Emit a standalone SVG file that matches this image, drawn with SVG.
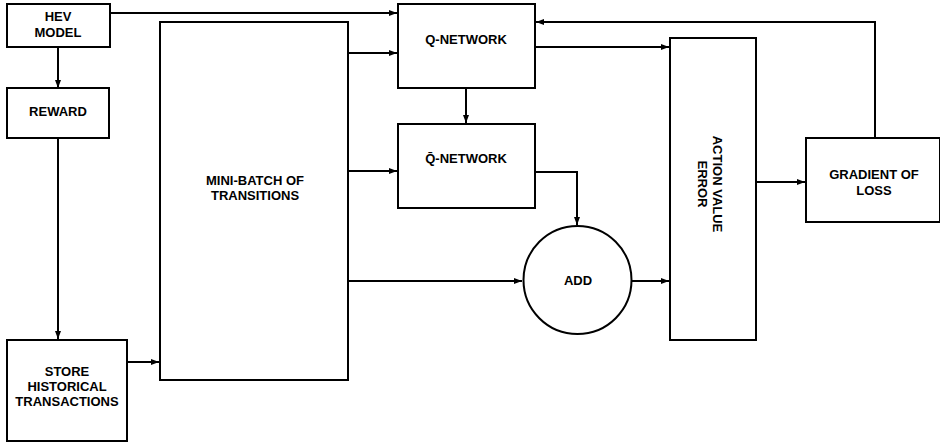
<svg xmlns="http://www.w3.org/2000/svg" width="940" height="444" viewBox="0 0 940 444">
<defs>
<marker id="ah" markerWidth="8" markerHeight="6" refX="8" refY="3" orient="auto" markerUnits="userSpaceOnUse">
<path d="M0,0 L8,3 L0,6 Z" fill="#000"/>
</marker>
<style>
.box{fill:#fff;stroke:#000;stroke-width:2}
.t{font-family:"Liberation Sans",Arial,sans-serif;font-weight:bold;font-size:13px;fill:#000;text-anchor:middle}
.c{fill:none;stroke:#000;stroke-width:2}
</style>
</defs>
<rect width="940" height="444" fill="#fff"/>
<g id="connectors">
<path class="c" d="M110,13 H397" marker-end="url(#ah)"/>
<path class="c" d="M58,47 V88" marker-end="url(#ah)"/>
<path class="c" d="M58,138 V339" marker-end="url(#ah)"/>
<path class="c" d="M127,362 H159" marker-end="url(#ah)"/>
<path class="c" d="M348,53 H397" marker-end="url(#ah)"/>
<path class="c" d="M348,171 H397" marker-end="url(#ah)"/>
<path class="c" d="M348,281 H522" marker-end="url(#ah)"/>
<path class="c" d="M466,88 V123" marker-end="url(#ah)"/>
<path class="c" d="M535,47 H669" marker-end="url(#ah)"/>
<path class="c" d="M535,172 H577 V225" marker-end="url(#ah)"/>
<path class="c" d="M632,281 H669" marker-end="url(#ah)"/>
<path class="c" d="M756,182 H805" marker-end="url(#ah)"/>
<path class="c" d="M875,138 V22 H536" marker-end="url(#ah)"/>
</g>
<g id="hev">
<rect class="box" x="7" y="4" width="103" height="43"/>
<text class="t" x="58" y="21">HEV</text>
<text class="t" x="58" y="37">MODEL</text>
</g>
<g id="reward">
<rect class="box" x="7" y="88" width="102" height="50"/>
<text class="t" x="58" y="116">REWARD</text>
</g>
<g id="store">
<rect class="box" x="7" y="340" width="120" height="101"/>
<text class="t" x="67" y="376">STORE</text>
<text class="t" x="67" y="391">HISTORICAL</text>
<text class="t" x="67" y="406">TRANSACTIONS</text>
</g>
<g id="minibatch">
<rect class="box" x="160" y="22" width="188" height="358"/>
<text class="t" x="255" y="185">MINI-BATCH OF</text>
<text class="t" x="255" y="200">TRANSITIONS</text>
</g>
<g id="qnetwork">
<rect class="box" x="398" y="4" width="137" height="84"/>
<text class="t" x="466" y="44">Q-NETWORK</text>
</g>
<g id="qbarnetwork">
<rect class="box" x="398" y="124" width="137" height="84"/>
<text class="t" x="466" y="163">Q̄-NETWORK</text>
</g>
<g id="add">
<circle class="box" cx="577.5" cy="280" r="54"/>
<text class="t" x="578" y="285">ADD</text>
</g>
<g id="actionvalue">
<rect class="box" x="670" y="38" width="86" height="302"/>
<text class="t" transform="translate(709,184) rotate(90)"><tspan x="0" y="-4">ACTION VALUE</tspan><tspan x="0" y="11">ERROR</tspan></text>
</g>
<g id="gradient">
<rect class="box" x="806" y="138" width="134" height="84"/>
<text class="t" x="874" y="179">GRADIENT OF</text>
<text class="t" x="874" y="195">LOSS</text>
</g>
</svg>
